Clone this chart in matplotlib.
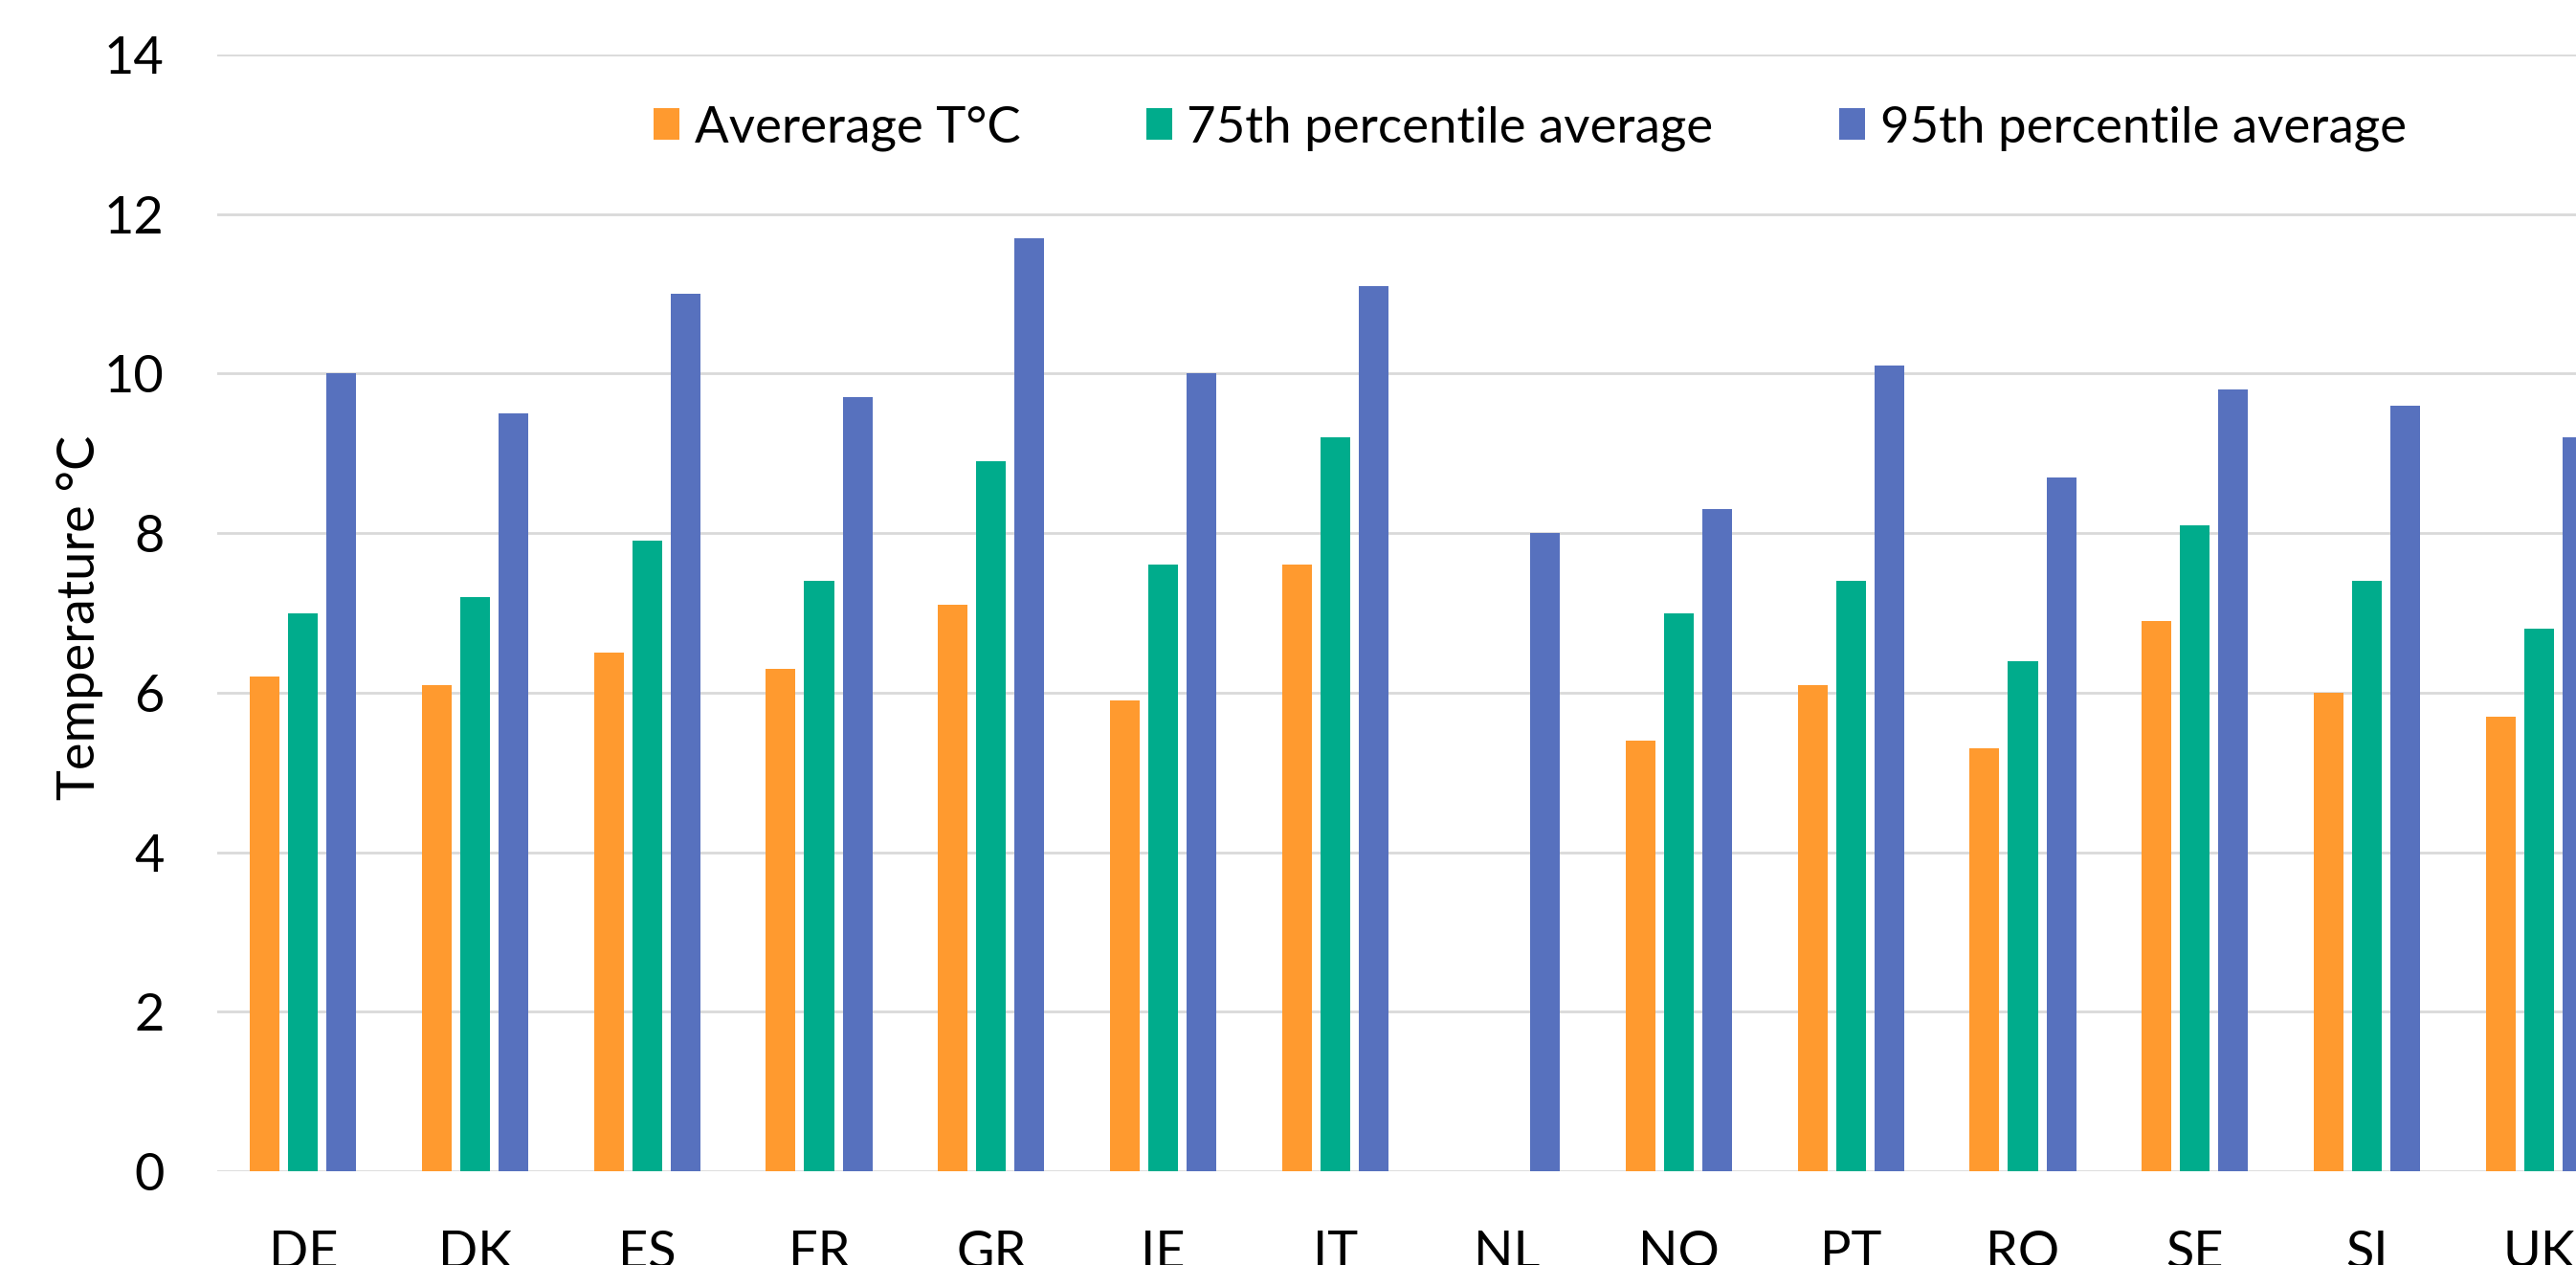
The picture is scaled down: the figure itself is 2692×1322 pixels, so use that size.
import numpy as np
import matplotlib.pyplot as plt

# values
countries = ['DE', 'DK', 'ES', 'FR', 'GR', 'IE', 'IT', 'NL', 'NO', 'PT', 'RO', 'SE', 'SI', 'UK']
avg_temp = [6.2, 6.1, 6.5, 6.3, 7.1, 5.9, 7.6, np.nan, 5.4, 6.1, 5.3, 6.9, 6.0, 5.7]
p75_avg = [7.0, 7.2, 7.9, 7.4, 8.9, 7.6, 9.2, np.nan, 7.0, 7.4, 6.4, 8.1, 7.4, 6.8]
p95_avg = [10.0, 9.5, 11.0, 9.7, 11.7, 10.0, 11.1, 8.0, 8.3, 10.1, 8.7, 9.8, 9.6, 9.2]

series_names = ['Avererage T°C', '75th percentile average', '95th percentile average']
colors = ['#FF9A2F', '#00AC8C', '#5771BE']

plt.rcParams['font.family'] = ['Lato', 'DejaVu Sans']

W, H = 2692, 1322
fig = plt.figure(figsize=(W / 100, H / 100), dpi=100)
# the reference is a crop: the plot runs past the right edge
ax = fig.add_axes([227 / W, 98 / H, (2743 - 227) / W, (1224 - 57) / H])

x = np.arange(len(countries))
width = 0.173
step = 0.223
for i, (vals, name, col) in enumerate(zip([avg_temp, p75_avg, p95_avg], series_names, colors)):
    ax.bar(x + (i - 1) * step, vals, width, color=col, label=name, zorder=3)

ax.set_xlim(-0.5, len(countries) - 0.5)
ax.set_ylim(0, 14)
ax.set_yticks(range(0, 15, 2))
ax.set_xticks(x)
ax.set_xticklabels(countries)
ax.grid(axis='y', color='#D9D9D9', linewidth=2, zorder=0)
for s in ax.spines.values():
    s.set_visible(False)
ax.tick_params(axis='both', length=0, labelsize=39)
ax.tick_params(axis='y', pad=40)
ax.tick_params(axis='x', pad=44)

fig.text(84 / W, 1 - 645 / H, 'Temperature °C', rotation=90, ha='center', va='center', fontsize=39)

ax.legend(loc='center', bbox_to_anchor=(1599 / W, 1 - 134 / H), bbox_transform=fig.transFigure,
          ncol=3, frameon=False, fontsize=38, handlelength=0.5, handleheight=0.6,
          handletextpad=0.3, columnspacing=2.5)

fig.savefig('out.png', dpi=100)
